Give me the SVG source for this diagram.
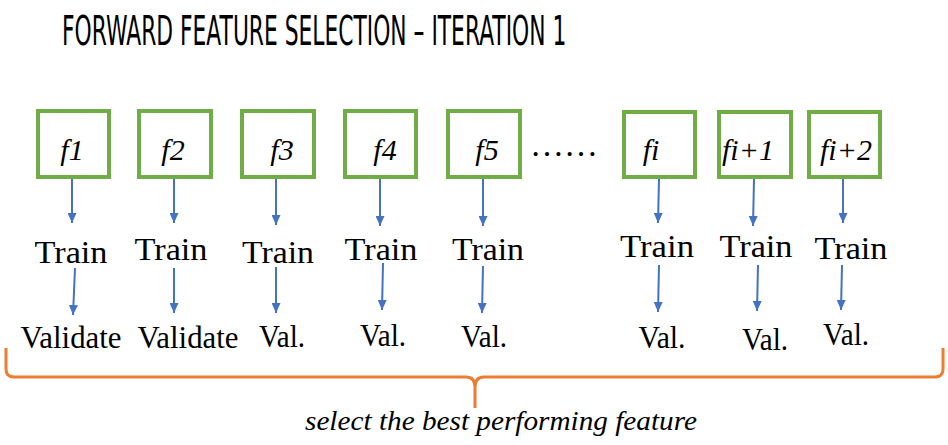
<svg xmlns="http://www.w3.org/2000/svg" width="948" height="445" viewBox="0 0 948 445">
<style>
.box{fill:#fff;stroke:#70AD47;stroke-width:4}
.lbl{font-family:"Liberation Serif",serif;font-style:italic;font-size:30px;fill:#000;text-anchor:middle}
.txt{font-family:"Liberation Serif",serif;font-size:32px;fill:#000;text-anchor:middle}
.arr{stroke:#4472C4;stroke-width:2;fill:none;marker-end:url(#ah)}
.title{font-family:"DejaVu Sans",sans-serif;fill:#000}
</style>
<defs>
<marker id="ah" markerUnits="userSpaceOnUse" markerWidth="10" markerHeight="9" refX="10" refY="4.5" orient="auto">
<path d="M0,0 L10,4.5 L0,9 z" fill="#4472C4"/>
</marker>
</defs>
<rect width="948" height="445" fill="#fff"/>
<g id="title" transform="translate(62,45) scale(0.545,1)">
<text class="title" x="0" y="0" font-size="40">FORWARD FEATURE SELECTION – ITERATION 1</text>
</g>

<g id="f1"><rect class="box" x="38" y="111" width="71" height="66"/><text class="lbl" x="72" y="160">f1</text></g>
<g id="f2"><rect class="box" x="139" y="111" width="72" height="66"/><text class="lbl" x="173" y="160">f2</text></g>
<g id="f3"><rect class="box" x="242" y="111" width="72" height="66"/><text class="lbl" x="282" y="160">f3</text></g>
<g id="f4"><rect class="box" x="345" y="111" width="71" height="66"/><text class="lbl" x="385" y="160">f4</text></g>
<g id="f5"><rect class="box" x="448" y="111" width="72" height="66"/><text class="lbl" x="487" y="160">f5</text></g>
<g id="dots"><text x="530" y="156" font-family="Liberation Serif,serif" font-size="34">……</text></g>
<g id="fi"><rect class="box" x="624" y="112" width="71" height="65"/><text class="lbl" x="651" y="160">fi</text></g>
<g id="fi1"><rect class="box" x="719" y="112" width="72" height="65"/><text class="lbl" x="748" y="160">fi+1</text></g>
<g id="fi2"><rect class="box" x="809" y="112" width="71" height="65"/><text class="lbl" x="846" y="160">fi+2</text></g>

<g id="train">
<text class="txt" x="71" y="263" textLength="73" lengthAdjust="spacingAndGlyphs">Train</text>
<text class="txt" x="171" y="260" textLength="73" lengthAdjust="spacingAndGlyphs">Train</text>
<text class="txt" x="278" y="263" textLength="72" lengthAdjust="spacingAndGlyphs">Train</text>
<text class="txt" x="381" y="260" textLength="73" lengthAdjust="spacingAndGlyphs">Train</text>
<text class="txt" x="488" y="260" textLength="72" lengthAdjust="spacingAndGlyphs">Train</text>
<text class="txt" x="657" y="257" textLength="74" lengthAdjust="spacingAndGlyphs">Train</text>
<text class="txt" x="756" y="257" textLength="73" lengthAdjust="spacingAndGlyphs">Train</text>
<text class="txt" x="851" y="259" textLength="73" lengthAdjust="spacingAndGlyphs">Train</text>
</g>
<g id="validate">
<text class="txt" x="71" y="348" textLength="101" lengthAdjust="spacingAndGlyphs">Validate</text>
<text class="txt" x="188" y="348" textLength="101" lengthAdjust="spacingAndGlyphs">Validate</text>
<text class="txt" x="282" y="347" textLength="46" lengthAdjust="spacingAndGlyphs">Val.</text>
<text class="txt" x="383" y="346" textLength="46" lengthAdjust="spacingAndGlyphs">Val.</text>
<text class="txt" x="484" y="347" textLength="46" lengthAdjust="spacingAndGlyphs">Val.</text>
<text class="txt" x="662" y="348" textLength="47" lengthAdjust="spacingAndGlyphs">Val.</text>
<text class="txt" x="765" y="350" textLength="46" lengthAdjust="spacingAndGlyphs">Val.</text>
<text class="txt" x="846" y="345" textLength="46" lengthAdjust="spacingAndGlyphs">Val.</text>
</g>

<g id="connectors">
<line class="arr" x1="72" y1="179" x2="72" y2="223"/>
<line class="arr" x1="75" y1="268" x2="73" y2="315"/>
<line class="arr" x1="174" y1="179" x2="174" y2="223"/>
<line class="arr" x1="174" y1="268" x2="174" y2="313"/>
<line class="arr" x1="276" y1="179" x2="276" y2="225"/>
<line class="arr" x1="276" y1="267" x2="276" y2="313"/>
<line class="arr" x1="380" y1="179" x2="380" y2="226"/>
<line class="arr" x1="383" y1="263" x2="382" y2="310"/>
<line class="arr" x1="483" y1="179" x2="483" y2="226"/>
<line class="arr" x1="483" y1="266" x2="482" y2="313"/>
<line class="arr" x1="659" y1="179" x2="658" y2="223"/>
<line class="arr" x1="659" y1="265" x2="658" y2="312"/>
<line class="arr" x1="754" y1="179" x2="753" y2="226"/>
<line class="arr" x1="758" y1="265" x2="757" y2="311"/>
<line class="arr" x1="843" y1="179" x2="843" y2="223"/>
<line class="arr" x1="842" y1="265" x2="841" y2="310"/>
</g>

<g id="brace">
<path d="M6,348 L6,369 Q6,377 14,377 L466,377 Q475,377 475,387 L475,408 M475,387 Q475,377 484,377 L935,377 Q943,377 943,369 L943,348" fill="none" stroke="#ED7D31" stroke-width="3"/>
</g>
<g id="caption">
<text x="305" y="430" font-family="Liberation Serif,serif" font-style="italic" font-size="28" textLength="392" lengthAdjust="spacingAndGlyphs">select the best performing feature</text>
</g>
</svg>
